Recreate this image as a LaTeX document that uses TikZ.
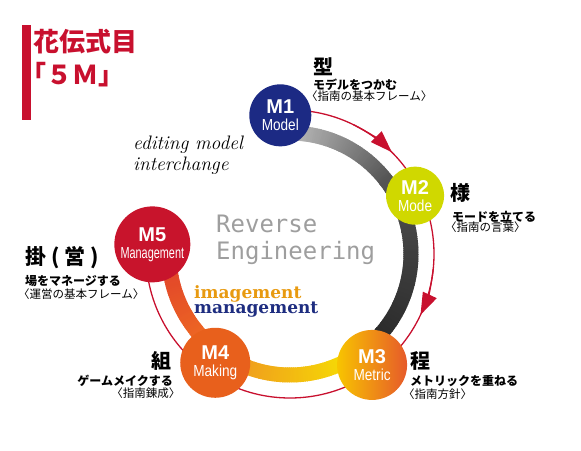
\documentclass[tikz,border=0pt]{standalone}
\usepackage{fontspec}
\setsansfont{Liberation Sans}
\newfontfamily\condfont[FakeStretch=0.85]{Liberation Sans}
\newfontfamily\narrowfont[FakeStretch=0.68]{Liberation Sans}
\newfontfamily\jpfont{Noto Sans CJK JP}
\newfontfamily\monofont{DejaVu Sans Mono}
\newfontfamily\slabfont{DejaVu Serif}
\usetikzlibrary{arrows.meta}

\definecolor{kadenred}{HTML}{C8102E}
\definecolor{mblue}{HTML}{1C2A84}
\definecolor{mlime}{HTML}{D0D800}
\definecolor{mthreea}{HTML}{F8C400}
\definecolor{mthreeb}{HTML}{E65A2A}
\definecolor{morange}{HTML}{E8601C}
\definecolor{mred}{HTML}{C8142C}
\definecolor{imaorange}{HTML}{E89A10}
\definecolor{mannavy}{HTML}{1E2D80}
\definecolor{bandA}{HTML}{C8C8C8}
\definecolor{bandB}{HTML}{555555}
\definecolor{bandC}{HTML}{454545}
\definecolor{bandD}{HTML}{2C2C2C}
\definecolor{bandE}{HTML}{F7E600}
\definecolor{bandF}{HTML}{F0A01C}
\definecolor{bandG}{HTML}{EC6424}
\definecolor{bandH}{HTML}{DE3A2C}

\newcommand{\bandpart}[4]{%
  \foreach \a in {#1,...,#2}{%
    \pgfmathtruncatemacro{\pct}{100*(\a-(#2))/((#1)-(#2))}
    \draw[line width=15pt,color=#3!\pct!#4] (C) ++(\a:121) arc[start angle=\a,end angle=\a-1.4,radius=121];
  }}

\begin{document}
\begin{tikzpicture}[x=1pt,y=1pt,
  mnode/.style={circle, minimum size=#1, inner sep=0pt, text=white, align=center,
    font=\sffamily\fontsize{16}{17}\selectfont},
  redline/.style={draw=kadenred, line width=1.3pt},
  head/.style={font=\jpfont\bfseries\fontsize{20}{20}\selectfont, inner sep=0pt, anchor=west},
  sub/.style={font=\jpfont\bfseries\fontsize{12}{12}\selectfont, inner sep=0pt, anchor=west},
  note/.style={font=\jpfont\fontsize{11.5}{11.5}\selectfont, inner sep=0pt, anchor=west},
  title/.style={font=\jpfont\bfseries\fontsize{26}{26}\selectfont, text=kadenred, inner sep=0pt, anchor=west},
  tip/.style={-{Triangle[length=22pt,width=15pt]}}]
\useasboundingbox (0,0) rectangle (581,450);
\coordinate (C) at (290,196);

\bandpart{96}{38}{bandA}{bandB}
\bandpart{38}{12}{bandB}{bandC}
\bandpart{12}{-40}{bandC}{bandD}
\bandpart{-40}{-54}{bandD}{bandD}
\bandpart{-54}{-110}{bandE}{bandF}
\bandpart{-110}{-140}{bandF}{bandG}
\bandpart{-140}{-185}{bandG}{bandH}

\draw[redline] (C) ++(90:144) arc[start angle=90,end angle=-180,radius=144];
\draw[redline,tip] (C) ++(64:144) arc[start angle=64,end angle=45,radius=144];
\draw[redline,tip] (C) ++(-6:144) arc[start angle=-6,end angle=-25,radius=144];

\node[mnode=62pt, fill=mblue] (m1) at ([shift={(94:139)}]C) {{\bfseries\fontsize{20}{20}\selectfont M1}\\{\condfont Model}};
\node[mnode=58pt, fill=mlime] (m2) at ([shift={(25:138)}]C) {{\bfseries\fontsize{20}{20}\selectfont M2}\\{\condfont Mode}};
\node[mnode=70pt, left color=mthreea, right color=mthreeb] (m3) at ([shift={(-53.5:138)}]C) {{\bfseries\fontsize{20}{20}\selectfont M3}\\{\condfont Metric}};
\node[mnode=70pt, fill=morange] (m4) at ([shift={(-124.5:132)}]C) {{\bfseries\fontsize{20}{20}\selectfont M4}\\{\condfont Making}};
\node[mnode=76pt, fill=mred] (m5) at ([shift={(176:138)}]C) {{\bfseries\fontsize{20}{20}\selectfont M5}\\{\narrowfont Management}};

\fill[kadenred] (22,330) rectangle (31,425);
\node[title] (ttl1) at (33,408.5) {花伝式目};
\node[title] (ttl2) at (20,375) {「５Ｍ」};

\node[head] (h1) at (313,383.5) {型};
\node[sub] (s1) at (313,365) {モデルをつかむ};
\node[note] (n1) at (306,354) {〈指南の基本フレーム〉};

\node[head] (h2) at (450,257) {様};
\node[sub] (s2) at (452,233) {モードを立てる};
\node[note] (n2) at (445,222.5) {〈指南の言葉〉};

\node[head] (h3) at (410,89) {程};
\node[sub] (s3) at (410,69) {メトリックを重ねる};
\node[note] (n3) at (403,56) {〈指南方針〉};

\node[head, anchor=east] (h4) at (172,89) {組};
\node[sub, anchor=east] (s4) at (173,69) {ゲームメイクする};
\node[note, anchor=east] (n4) at (180.5,57) {〈指南錬成〉};

\node[head, font=\jpfont\bfseries\fontsize{21}{21}\selectfont] (h5) at (25,192) {掛 ( 営 )};
\node[sub] (s5) at (25,169) {場をマネージする};
\node[note] (n5) at (18,156) {〈運営の基本フレーム〉};

\node[font=\itshape\fontsize{19.5}{19.5}\selectfont, text=black, inner sep=0pt, anchor=base west] (edt1) at (133,300) {editing model};
\node[font=\itshape\fontsize{19.5}{19.5}\selectfont, text=black, inner sep=0pt, anchor=base west] (edt2) at (133,279) {interchange};

\node[font=\monofont\fontsize{24}{24}\selectfont, text=black!38, inner sep=0pt, anchor=base west] (rev1) at (216,217) {Reverse};
\node[font=\monofont\fontsize{24}{24}\selectfont, text=black!38, inner sep=0pt, anchor=base west] (rev2) at (216,190) {Engineering};

\node[font=\slabfont\bfseries\fontsize{17}{17}\selectfont, text=imaorange, inner sep=0pt, anchor=base west] (ima) at (194,151.5) {imagement};
\node[font=\slabfont\bfseries\fontsize{17}{17}\selectfont, text=mannavy, inner sep=0pt, anchor=base west] (man) at (194,136) {management};
\end{tikzpicture}
\end{document}
